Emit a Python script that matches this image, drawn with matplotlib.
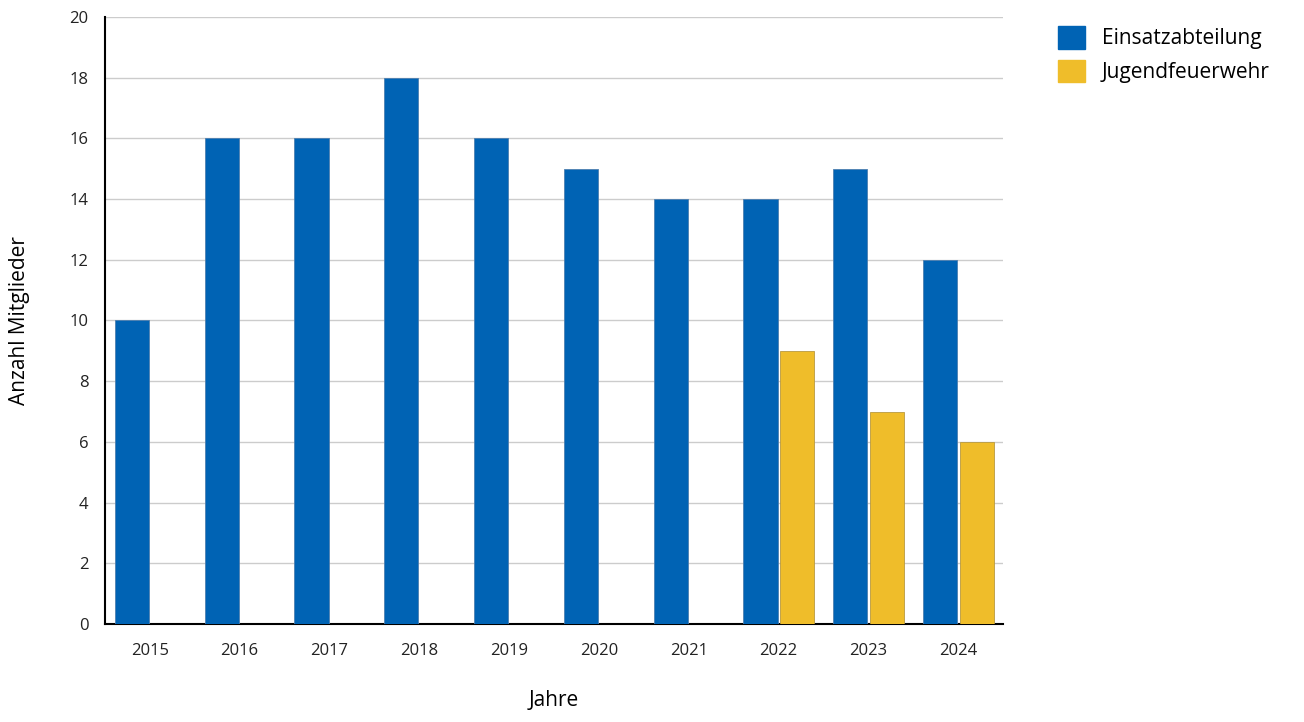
import numpy as np
import matplotlib.pyplot as plt
from matplotlib.patches import Patch

plt.rcParams['font.family'] = ['Open Sans', 'DejaVu Sans']

jahre = ['2015', '2016', '2017', '2018', '2019', '2020', '2021', '2022', '2023', '2024']
einsatz = [10, 16, 16, 18, 16, 15, 14, 14, 15, 12]
jugend = [0, 0, 0, 0, 0, 0, 0, 9, 7, 6]

blau = '#0063b4'
gelb = '#efbd2a'

fig = plt.figure(figsize=(13.04, 7.22), dpi=100)
ax = fig.add_axes([0.0805, 0.1357, 0.6887, 0.8408])

x = np.arange(len(jahre))
w = 0.38
ax.bar(x - 0.2, einsatz, w, color=blau, edgecolor='#4d7fb0', linewidth=0.6, zorder=3)
jx = [i for i in x if jugend[i] > 0]
ax.bar(np.array(jx) + 0.21, [jugend[i] for i in jx], w, color=gelb,
       edgecolor='#b89a40', linewidth=0.6, zorder=3)

ax.set_xlim(-0.5, len(jahre) - 0.5)
ax.set_ylim(0, 20)
ax.set_yticks(range(0, 21, 2))
ax.set_xticks(x)
ax.set_xticklabels(jahre)
ax.tick_params(axis='both', length=0, labelsize=12, colors='#222222')
ax.tick_params(axis='x', pad=14)
ax.tick_params(axis='y', pad=12)
ax.grid(axis='y', color='#cccccc', linewidth=1, zorder=0)
for s in ['top', 'right']:
    ax.spines[s].set_visible(False)
ax.spines['left'].set_linewidth(1.5)
ax.spines['bottom'].set_linewidth(1.5)

ax.set_xlabel('Jahre', fontsize=15, labelpad=22)
ax.set_ylabel('Anzahl Mitglieder', fontsize=15, labelpad=28)

handles = [Patch(color=blau, label='Einsatzabteilung'),
           Patch(color=gelb, label='Jugendfeuerwehr')]
fig.legend(handles=handles, loc='upper left', bbox_to_anchor=(0.797, 0.99),
           frameon=False, fontsize=15, handlelength=1.3, handleheight=1.3,
           handletextpad=0.8, labelspacing=0.5)

plt.savefig('out.png')
